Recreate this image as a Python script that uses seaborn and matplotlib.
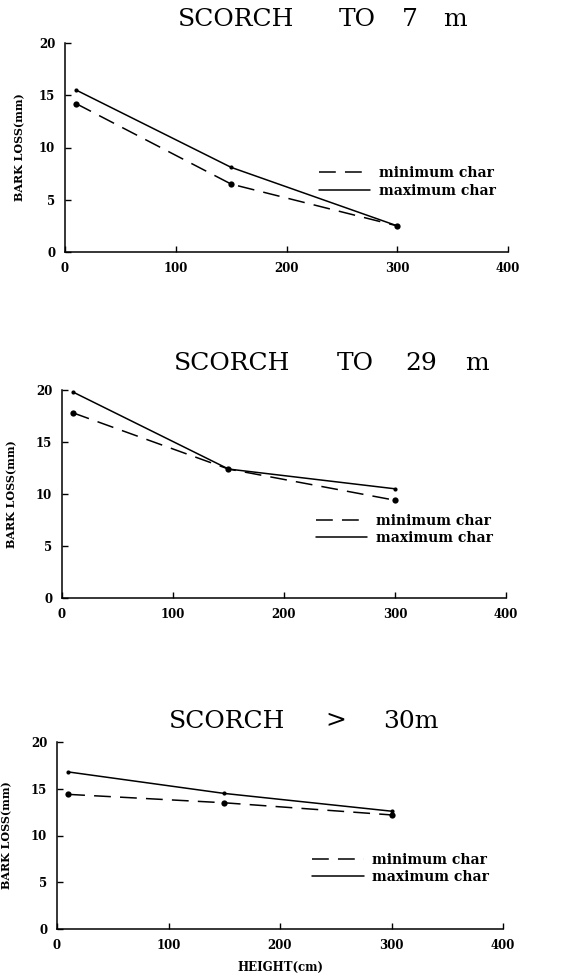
import matplotlib
matplotlib.use("Agg")
import matplotlib.pyplot as plt
import seaborn as sns
import pandas as pd

sns.set_theme(style="ticks")
plt.rcParams['font.family'] = ['DejaVu Serif']
plt.rcParams['font.weight'] = 'bold'
plt.rcParams['text.color'] = 'black'
plt.rcParams['axes.labelcolor'] = 'black'
plt.rcParams['xtick.color'] = 'black'
plt.rcParams['ytick.color'] = 'black'

heights = [10, 150, 300]
title_words = [["SCORCH", "TO", "7", "m"], ["SCORCH", "TO", "29", "m"], ["SCORCH", ">", "30m"]]
min_char_7 = [14.2, 6.5, 2.5]
max_char_7 = [15.5, 8.1, 2.5]
min_char_29 = [17.8, 12.4, 9.4]
max_char_29 = [19.8, 12.4, 10.5]
min_char_30 = [14.4, 13.5, 12.2]
max_char_30 = [16.8, 14.5, 12.6]
x_ticks = [0, 100, 200, 300, 400]
y_ticks = [0, 5, 10, 15, 20]
series_labels = ["minimum char", "maximum char"]

panels = [(min_char_7, max_char_7), (min_char_29, max_char_29), (min_char_30, max_char_30)]

W, H = 577, 977
fig = plt.figure(figsize=(W / 100, H / 100), dpi=100)
fig.patch.set_facecolor("white")

# axes boxes in pixels: left, right, top, bottom
boxes = [(65, 508, 43, 252), (62, 506, 390, 598), (57, 503, 742, 929)]
title_word_x = [[236, 357, 410, 455], [232, 355, 421, 477], [227, 336, 411]]
title_y = [19, 364, 721]
legend_anchor = [(0.573, 0.335), (0.572, 0.329), (0.572, 0.324)]
ylabel_x = [-0.09, -0.10, -0.10]

for i, ((mn, mx), (l, r, t, b)) in enumerate(zip(panels, boxes)):
    ax = fig.add_axes([l / W, 1 - b / H, (r - l) / W, (b - t) / H])
    ax.set_facecolor("white")
    df = pd.DataFrame({
        "height": heights * 2,
        "loss": mn + mx,
        "series": [series_labels[0]] * 3 + [series_labels[1]] * 3,
    })
    sns.lineplot(data=df[df.series == series_labels[0]], x="height", y="loss", ax=ax,
                 color="black", lw=1.1, marker="o", markersize=4.5, markeredgewidth=0,
                 label=series_labels[0], clip_on=False)
    ax.lines[-1].set_dashes((11, 6))
    sns.lineplot(data=df[df.series == series_labels[1]], x="height", y="loss", ax=ax,
                 color="black", lw=1.1, marker="o", markersize=3, markeredgewidth=0,
                 label=series_labels[1], clip_on=False)
    ax.set_xlim(0, 400)
    ax.set_ylim(0, 20)
    ax.set_xticks(x_ticks)
    ax.set_yticks(y_ticks)
    for s in ["top", "right"]:
        ax.spines[s].set_visible(False)
    for s in ["left", "bottom"]:
        ax.spines[s].set_linewidth(1.1)
        ax.spines[s].set_color("black")
    ax.tick_params(direction="in", length=4, width=1.0, colors="black", labelsize=8.5, pad=7)
    for lab in ax.get_xticklabels() + ax.get_yticklabels():
        lab.set_fontweight("bold")
    ax.set_ylabel("BARK LOSS(mm)", fontsize=8, fontweight="bold", color="black")
    ax.yaxis.set_label_coords(ylabel_x[i], 0.5)
    if i == 2:
        ax.set_xlabel("HEIGHT(cm)", fontsize=8.5, fontweight="bold", color="black", labelpad=7)
    else:
        ax.set_xlabel("")
    leg = ax.legend(loc="center left", bbox_to_anchor=legend_anchor[i], frameon=False,
                    handlelength=3.7, handletextpad=0.6, labelspacing=0.25,
                    borderpad=0, borderaxespad=0,
                    prop={"family": "DejaVu Serif", "weight": "bold", "size": 10})
    for txt in leg.get_texts():
        txt.set_color("black")
    for h in leg.legend_handles:
        h.set_marker("")
    for word, wx in zip(title_words[i], title_word_x[i]):
        fig.text(wx / W, 1 - title_y[i] / H, word, ha="center", va="center",
                 fontsize=18, fontfamily="DejaVu Serif", fontweight="normal", color="black")

fig.savefig("out.png", dpi=100, facecolor="white")
